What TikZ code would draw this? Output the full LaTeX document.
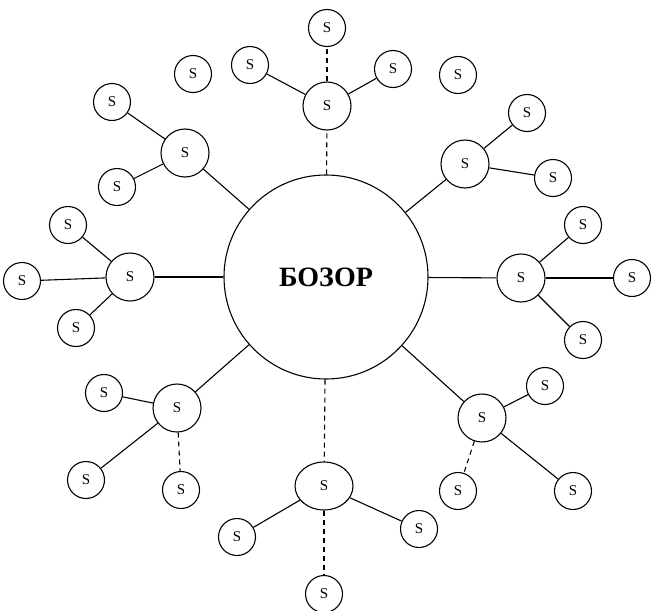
\documentclass[tikz,border=0pt]{standalone}
\usepackage{fontspec}
\setmainfont{Liberation Serif}
\usetikzlibrary{shapes.geometric}
\tikzset{
  ln/.style={line width=1.1pt, black},
  big/.style={circle, draw, ln, minimum size=204pt, inner sep=0pt, font=\fontsize{28}{30}\selectfont\bfseries},
  hub/.style={circle, draw, ln, minimum size=48pt, inner sep=0pt, font=\fontsize{15}{16}\selectfont},
  hubov/.style={ellipse, draw, ln, minimum width=58pt, minimum height=48pt, inner sep=0pt, font=\fontsize{15}{16}\selectfont},
  sm/.style={circle, draw, ln, minimum size=37pt, inner sep=0pt, font=\fontsize{15}{16}\selectfont},
  con/.style={ln},
  dcon/.style={ln, dash pattern=on 5pt off 4pt}
}
\begin{document}
\begin{tikzpicture}[x=1pt, y=-1pt]
\useasboundingbox (0,0) rectangle (652,610);
\node[big] (C) at (326,277) {БОЗОР};
% top
\node[hub] (T) at (327,106) {S};
\node[sm] (T1) at (327,28) {S};
\node[sm] (T2) at (250,65) {S};
\node[sm] (T3) at (393,69) {S};
% top-left
\node[hub] (TL) at (185,153) {S};
\node[sm] (TL1) at (112,102) {S};
\node[sm] (TL2) at (117,187) {S};
\node[sm] (I1) at (193,74) {S};
% left
\node[hub] (L) at (130,277) {S};
\node[sm] (L1) at (68,225) {S};
\node[sm] (L2) at (22,281) {S};
\node[sm] (L3) at (76,328) {S};
% bottom-left
\node[hub] (BL) at (177,408) {S};
\node[sm] (BL1) at (104,393) {S};
\node[sm] (BL2) at (86,480) {S};
\node[sm] (BL3) at (181,490) {S};
% bottom
\node[hubov] (B) at (324,486) {S};
\node[sm] (B1) at (237,537) {S};
\node[sm] (B2) at (419,529) {S};
\node[sm] (B3) at (324,594) {S};
% bottom-right
\node[hub] (BR) at (482,418) {S};
\node[sm] (BR1) at (545,386) {S};
\node[sm] (BR2) at (458,491) {S};
\node[sm] (BR3) at (573,491) {S};
% right
\node[hub] (R) at (521,278) {S};
\node[sm] (R1) at (583,225) {S};
\node[sm] (R2) at (632,278) {S};
\node[sm] (R3) at (583,340) {S};
% top-right
\node[hub] (TR) at (465,164) {S};
\node[sm] (TR1) at (527,113) {S};
\node[sm] (TR2) at (553,178) {S};
\node[sm] (I2) at (458,75) {S};
% connectors
\draw[dcon] (C) -- (T);
\draw[con] (C) -- (TL);
\draw[con] (C) -- (L);
\draw[con] (C) -- (BL);
\draw[dcon] (C) -- (B);
\draw[con] (C) -- (BR);
\draw[con] (C) -- (R);
\draw[con] (C) -- (TR);
\draw[dcon] (T) -- (T1);
\draw[con] (T) -- (T2);
\draw[con] (T) -- (T3);
\draw[con] (TL) -- (TL1);
\draw[con] (TL) -- (TL2);
\draw[con] (L) -- (L1);
\draw[con] (L) -- (L2);
\draw[con] (L) -- (L3);
\draw[con] (BL) -- (BL1);
\draw[con] (BL) -- (BL2);
\draw[dcon] (BL) -- (BL3);
\draw[con] (B) -- (B1);
\draw[con] (B) -- (B2);
\draw[dcon] (B) -- (B3);
\draw[con] (BR) -- (BR1);
\draw[dcon] (BR) -- (BR2);
\draw[con] (BR) -- (BR3);
\draw[con] (R) -- (R1);
\draw[con] (R) -- (R2);
\draw[con] (R) -- (R3);
\draw[con] (TR) -- (TR1);
\draw[con] (TR) -- (TR2);
\end{tikzpicture}
\end{document}
